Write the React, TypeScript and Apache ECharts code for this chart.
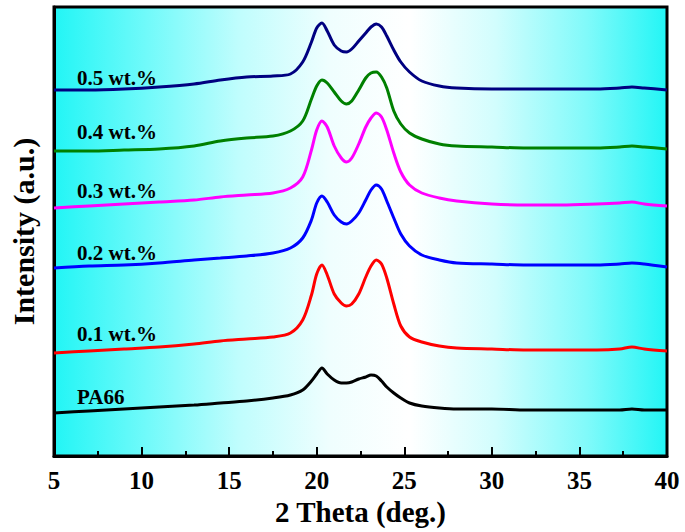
import React, { useEffect, useRef } from "react";
import * as echarts from "echarts";

const twoTheta = [5, 7, 9, 11, 13, 14.5, 16, 17.5, 18.5, 19.2, 19.7, 20.0, 20.3, 20.6, 21.0, 21.4, 21.7, 22.0, 22.4, 22.8, 23.1, 23.4, 23.7, 24.0, 24.4, 24.8, 25.3, 26.0, 27.0, 28.0, 30, 32, 34, 36, 37.3, 38, 38.7, 40];

const pa66 = [43, 45, 47, 49, 51, 53, 55, 58, 61, 66, 75, 82, 88, 82, 76, 73, 73, 74, 77, 79, 81, 80, 75, 69, 63, 58, 53, 50, 48, 47, 47, 46, 46, 46, 46, 47, 46, 46];
const wt01 = [103, 105, 107, 109, 112, 115, 117, 119, 123, 136, 161, 182, 191, 181, 162, 153, 150, 152, 162, 179, 190, 196, 192, 178, 152, 130, 119, 114, 110, 108, 107, 106, 106, 106, 107, 109, 107, 105];
const wt02 = [188, 190, 191, 193, 196, 198, 200, 203, 208, 218, 236, 253, 260, 254, 241, 234, 232, 235, 243, 256, 266, 271, 267, 255, 238, 222, 210, 201, 196, 193, 192, 191, 191, 191, 192, 193, 192, 189];
const wt03 = [248, 250, 252, 254, 256, 259, 261, 263, 268, 279, 306, 326, 335, 329, 310, 298, 294, 298, 312, 329, 338, 343, 339, 326, 303, 284, 271, 263, 258, 255, 252, 251, 251, 252, 253, 254, 252, 250];
const wt04 = [305, 305, 306, 307, 310, 315, 318, 320, 325, 335, 357, 370, 376, 373, 364, 355, 352, 355, 366, 378, 383, 384, 379, 368, 345, 332, 323, 317, 312, 310, 309, 308, 308, 308, 309, 310, 309, 307];
const wt05 = [366, 366, 367, 369, 372, 376, 379, 380, 382, 394, 414, 428, 433, 425, 411, 405, 404, 407, 415, 423, 429, 432, 429, 420, 406, 394, 384, 375, 370, 368, 367, 367, 367, 367, 368, 369, 368, 366];

const seriesNames = ["PA66", "0.1 wt.%", "0.2 wt.%", "0.3 wt.%", "0.4 wt.%", "0.5 wt.%"];
const seriesValues = [pa66, wt01, wt02, wt03, wt04, wt05];
const seriesColors = ["#000000", "#ff0000", "#0000ff", "#ff00ff", "#008000", "#000080"];
const labelTops = [398, 335, 254, 192, 133, 79];

const xTicks = [5, 10, 15, 20, 25, 30, 35, 40];

const FONT = "'Liberation Serif', 'Times New Roman', serif";

export default function App() {
  const ref = useRef<HTMLDivElement>(null);
  useEffect(() => {
    if (!ref.current) return;
    const chart = echarts.init(ref.current, undefined, { renderer: "svg" });
    const bg = new echarts.graphic.LinearGradient(0, 0, 1, 0, [
      { offset: 0, color: "#22f5f5" },
      { offset: 0.15, color: "#70fafa" },
      { offset: 0.3, color: "#bffdfd" },
      { offset: 0.45, color: "#effefe" },
      { offset: 0.58, color: "#ffffff" },
      { offset: 0.72, color: "#d2fdfd" },
      { offset: 0.87, color: "#80fafa" },
      { offset: 1, color: "#22f5f5" },
    ]);
    chart.setOption({
      animation: false,
      grid: {
        left: 53,
        right: 18,
        top: 7,
        bottom: 76,
        show: true,
        backgroundColor: bg,
        borderColor: "#000",
        borderWidth: 3,
      },
      xAxis: {
        type: "value",
        min: 5,
        max: 40,
        interval: 5,
        name: "2 Theta (deg.)",
        nameLocation: "middle",
        nameGap: 38,
        nameTextStyle: { fontFamily: FONT, fontWeight: "bold", fontSize: 29, color: "#000" },
        axisLine: { show: true, onZero: false, lineStyle: { color: "#000", width: 3 } },
        axisTick: { show: true, inside: true, length: 9, lineStyle: { color: "#000", width: 2 } },
        minorTick: { show: true, splitNumber: 2, length: 5, lineStyle: { color: "#000", width: 2 } },
        splitLine: { show: false },
        axisLabel: {
          fontFamily: FONT,
          fontWeight: "bold",
          fontSize: 25,
          color: "#000",
          margin: 12,
          formatter: (v: number) => (xTicks.includes(v) ? String(v) : ""),
        },
      },
      yAxis: {
        type: "value",
        min: 0,
        max: 449,
        name: "Intensity (a.u.)",
        nameLocation: "middle",
        nameGap: 16,
        nameTextStyle: { fontFamily: FONT, fontWeight: "bold", fontSize: 30, color: "#000" },
        axisLine: { show: true, lineStyle: { color: "#000", width: 3 } },
        axisTick: { show: false },
        axisLabel: { show: false },
        splitLine: { show: false },
      },
      graphic: seriesNames.map((n, i) => ({
        type: "text",
        left: 77,
        top: labelTops[i] - 12,
        style: {
          text: n,
          fontFamily: FONT,
          fontWeight: "bold",
          fontSize: 21,
          fill: "#000",
        },
        z: 100,
      })),
      series: seriesNames.map((n, i) => ({
        name: n,
        type: "line",
        data: twoTheta.map((x, j) => [x, seriesValues[i][j]]),
        smooth: 0.3,
        symbol: "none",
        lineStyle: { color: seriesColors[i], width: 3 },
      })),
    });
    return () => chart.dispose();
  }, []);
  return (
    <div
      ref={ref}
      style={{ position: "fixed", left: 0, top: 0, width: 685, height: 532, background: "#fff" }}
    />
  );
}
